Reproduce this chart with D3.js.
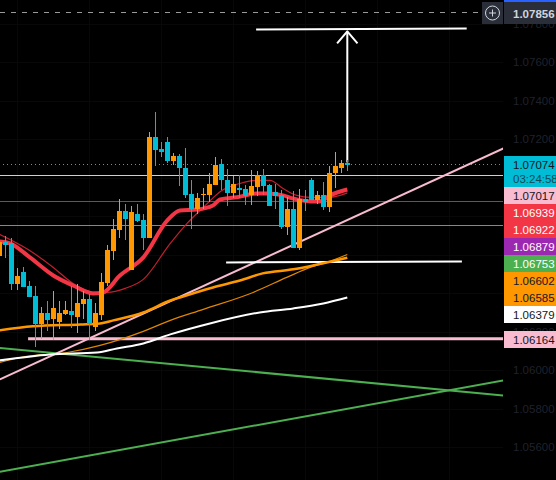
<!DOCTYPE html>
<html><head><meta charset="utf-8">
<script src="https://cdn.jsdelivr.net/npm/d3@7"></script>
<style>html,body{margin:0;background:#000;overflow:hidden}svg{display:block}</style>
</head><body><svg id="c" width="556" height="480"></svg>
<script>
// Candles, bar numbers -1..57
const open=[1.06592,1.06665,1.06660,1.06447,1.06509,1.06436,1.06384,1.06239,1.06296,1.06265,1.06254,1.06291,1.06306,1.06275,1.06343,1.06369,1.06223,1.06286,1.06452,1.06618,1.06727,1.06826,1.06519,1.06815,1.06779,1.06686,1.07210,1.07148,1.07184,1.07086,1.07112,1.07054,1.06914,1.06841,1.06909,1.06909,1.06961,1.07070,1.06987,1.06919,1.06945,1.06940,1.06909,1.06951,1.07013,1.06961,1.06925,1.06909,1.06743,1.06836,1.06634,1.06888,1.06987,1.06883,1.06909,1.06847,1.07023,1.07054,1.07080];
const high=[1.06686,1.06696,1.06690,1.06530,1.06535,1.06467,1.06441,1.06327,1.06363,1.06410,1.06363,1.06358,1.06441,1.06447,1.06415,1.06395,1.06348,1.06504,1.06654,1.06789,1.06888,1.06862,1.06852,1.06862,1.06815,1.07241,1.07340,1.07189,1.07210,1.07127,1.07122,1.07153,1.06987,1.06919,1.06945,1.07023,1.07106,1.07096,1.07044,1.07008,1.07013,1.06961,1.07039,1.07034,1.07044,1.06966,1.06966,1.06935,1.06899,1.06930,1.06940,1.06935,1.06997,1.06930,1.06977,1.07060,1.07132,1.07091,1.07091];
const low=[1.06582,1.06582,1.06420,1.06420,1.06431,1.06379,1.06119,1.06161,1.06203,1.06156,1.06213,1.06286,1.06218,1.06192,1.06265,1.06156,1.06203,1.06260,1.06441,1.06576,1.06686,1.06680,1.06519,1.06769,1.06623,1.06686,1.07060,1.07106,1.07080,1.07065,1.06956,1.06893,1.06737,1.06815,1.06836,1.06873,1.06961,1.06935,1.06852,1.06893,1.06893,1.06857,1.06857,1.06904,1.06909,1.06852,1.06836,1.06732,1.06701,1.06634,1.06623,1.06826,1.06883,1.06862,1.06831,1.06821,1.06945,1.07023,1.07034];
const close=[1.06665,1.06649,1.06447,1.06488,1.06431,1.06379,1.06239,1.06296,1.06260,1.06322,1.06296,1.06312,1.06286,1.06348,1.06369,1.06239,1.06296,1.06457,1.06623,1.06732,1.06826,1.06789,1.06821,1.06774,1.06686,1.07210,1.07143,1.07132,1.07086,1.07112,1.07049,1.06909,1.06841,1.06893,1.06914,1.06966,1.07065,1.06987,1.06919,1.06966,1.06935,1.06904,1.06956,1.07013,1.06956,1.06852,1.06904,1.06743,1.06841,1.06634,1.06888,1.06873,1.06883,1.06909,1.06847,1.07028,1.07060,1.07080,1.07065];

// Moving averages: [bar, price]
const emaFast=[[-0.9,1.06670],[0.8,1.06660],[4.1,1.06587],[8,1.06493],[11.3,1.06441],[14.6,1.06400],[16.3,1.06405],[19.1,1.06493],[23,1.06587],[27,1.06779],[29.1,1.06831],[32,1.06836],[34.6,1.06857],[35.8,1.06888],[38.6,1.06899],[41.9,1.06919],[43.6,1.06919],[46.3,1.06909],[48,1.06893],[50.8,1.06878],[52.4,1.06878],[54.1,1.06909],[57,1.06940]];
const smaFast=[[-0.9,1.06706],[3.8,1.06628],[8,1.06535],[11.3,1.06452],[15.3,1.06405],[17,1.06405],[20,1.06426],[23,1.06473],[27.5,1.06660],[30.3,1.06764],[33,1.06847],[36.1,1.06935],[39.1,1.06971],[41.9,1.06987],[44.1,1.06987],[46.3,1.06945],[48.6,1.06909],[50.8,1.06899],[54.1,1.06899],[57,1.06922]];
const emaMid=[[-0.9,1.06208],[4.6,1.06229],[12.5,1.06239],[15.8,1.06244],[18,1.06260],[23,1.06301],[27.5,1.06363],[29.1,1.06379],[34.6,1.06431],[39.1,1.06467],[42.9,1.06504],[48,1.06525],[51.3,1.06545],[57,1.06585]];
const smaMid=[[-0.9,1.06041],[2.5,1.06067],[10.3,1.06093],[15.8,1.06130],[23,1.06203],[27.5,1.06260],[33,1.06317],[41.3,1.06405],[46.9,1.06483],[50.8,1.06535],[53.6,1.06561],[57,1.06602]];
const emaSlow=[[-0.9,1.06052],[7.4,1.06083],[15.3,1.06093],[18.6,1.06114],[23,1.06140],[27.5,1.06187],[34.1,1.06244],[42.4,1.06301],[48,1.06322],[53,1.06348],[57,1.06379]];

// Drawings: [bar, price]
const pinkTrend=[[-0.9,1.05953],[83,1.07153]];
const greenDown=[[-0.9,1.06117],[83,1.05870]];
const greenUp=[[-0.9,1.05473],[83,1.05948]];
const whiteLow=[[36.8,1.06561],[76.1,1.06566]];
const whiteTop=[[41.8,1.07771],[76.9,1.07776]];
const pinkLevel=[[3.8,1.06164],[83,1.06164]];
const arrowShaft=[[57,1.07080],[57,1.07761]];
const arrowHead=[[55.3,1.07699],[57,1.07761],[58.7,1.07699]];

const levelPink=1.07017, levelPurple=1.06879, levelGreen=1.06753;
const lastPrice=1.07074, alertPrice=1.07856;
const countdown="03:24:58";
const priceTicks=[1.078,1.076,1.074,1.072,1.07,1.068,1.066,1.064,1.062,1.06,1.058,1.056,1.054];
const gridBars=[2,14,26,38,50,62,74];

const labelValues=[1.07074,1.07017,1.06939,1.06922,1.06879,1.06753,1.06602,1.06585,1.06379,1.06164];
const labelFill=["#00bcd4","#f8bbd0","#f23645","#f23645","#9c27b0","#4caf50","#ff9800","#ff9800","#ffffff","#f8bbd0"];
const labelInk=["#131722","#131722","#ffffff","#ffffff","#ffffff","#ffffff","#131722","#131722","#131722","#131722"];

const plotW=503, W=556, H=480;
const x=d3.scaleLinear().domain([0,57]).range([5.3,347.3]);
const y=d3.scaleLinear().domain([1.076,1.056]).range([62.4,447.4]);
const font="'Liberation Sans',Arial,sans-serif";
const svg=d3.select("#c");
svg.append("rect").attr("width",W).attr("height",H).attr("fill","#000");
svg.append("defs").append("clipPath").attr("id","plot").append("rect").attr("width",plotW).attr("height",H);
const g=svg.append("g").attr("clip-path","url(#plot)");

// grid
const gGrid=g.append("g").attr("stroke","#080808").attr("stroke-width",1).attr("shape-rendering","crispEdges");
gGrid.selectAll(".v").data(gridBars).join("line").attr("x1",d=>Math.round(x(d))+.5).attr("x2",d=>Math.round(x(d))+.5).attr("y1",0).attr("y2",H);
gGrid.selectAll(".h").data(priceTicks).join("line").attr("y1",d=>Math.round(y(d))+.5).attr("y2",d=>Math.round(y(d))+.5).attr("x1",0).attr("x2",plotW);

// horizontal levels
const hline=(p,c,w,dash)=>g.append("line").attr("x1",dash?3:0).attr("x2",plotW).attr("y1",Math.round(y(p))+.5).attr("y2",Math.round(y(p))+.5).attr("stroke",c).attr("stroke-width",w).attr("stroke-dasharray",dash||null).attr("shape-rendering","crispEdges");
hline(levelPink,"#f8bbd0",1);
hline(levelPurple,"#9c27b0",1);
hline(levelGreen,"#4caf50",1);
hline(lastPrice,"#00bcd4",1,"1 3");
g.append("line").attr("x1",0).attr("x2",482).attr("y1",y(alertPrice)-1).attr("y2",y(alertPrice)-1).attr("stroke","#9a9a9a").attr("stroke-dasharray","5 6").attr("shape-rendering","crispEdges");

const straight=d3.line().x(d=>x(d[0])).y(d=>y(d[1]));
const smooth=d3.line().x(d=>x(d[0])).y(d=>y(d[1])).curve(d3.curveMonotoneX);
const path=(gen,data,c,w)=>g.append("path").attr("d",gen(data)).attr("fill","none").attr("stroke",c).attr("stroke-width",w).attr("stroke-linejoin","round");

path(straight,greenDown,"#4caf50",2);
path(straight,greenUp,"#4caf50",2);
path(straight,pinkTrend,"#f8bbd0",2);
path(straight,pinkLevel,"#f8bbd0",3);
path(straight,whiteLow,"#ffffff",2);
path(straight,whiteTop,"#ffffff",2);
path(smooth,smaFast,"#c2202f",1.2);
path(smooth,smaMid,"#e08600",1.2);
path(smooth,emaSlow,"#ffffff",2);
path(smooth,emaMid,"#ff9800",2.5);
path(smooth,emaFast,"#f23645",4);
path(straight,arrowShaft,"#ffffff",2);
path(straight,arrowHead,"#ffffff",2);

// candles
const bars=d3.range(open.length).map(i=>({bar:i-1,o:open[i],h:high[i],l:low[i],c:close[i]}));
const col=d=>d.c>=d.o?"#ff9800":"#00bcd4";
const cg=g.append("g").attr("shape-rendering","crispEdges");
cg.selectAll(".w").data(bars).join("line").attr("x1",d=>Math.round(x(d.bar))+.5).attr("x2",d=>Math.round(x(d.bar))+.5)
 .attr("y1",d=>y(d.h)).attr("y2",d=>y(d.l)).attr("stroke",col).attr("stroke-width",1);
cg.selectAll(".b").data(bars).join("rect").attr("x",d=>Math.round(x(d.bar))-2).attr("width",5)
 .attr("y",d=>y(Math.max(d.o,d.c))).attr("height",d=>Math.max(1,Math.abs(y(d.o)-y(d.c)))).attr("fill",col);

// price axis
const axis=d3.axisRight(y).tickValues(priceTicks).tickFormat(d3.format(".5f")).tickSize(0).tickPadding(10);
const ag=svg.append("g").attr("transform",`translate(${plotW},-0.5)`).call(axis);
ag.select(".domain").remove();
ag.selectAll("text").attr("fill","#1f222b").attr("font-family",font).attr("font-size",11.5);

// stacked price labels
const lg=svg.append("g").attr("font-family",font).attr("font-size",11.5);
let bottom=0;
labelValues.forEach((v,i)=>{
  const h=i===0?31:17;
  const top=Math.max(bottom,Math.round(y(v))-8);
  bottom=top+h;
  lg.append("rect").attr("x",plotW+1).attr("y",top).attr("width",W-plotW-1).attr("height",h).attr("fill",labelFill[i]);
  lg.append("text").attr("x",513).attr("y",top+13).attr("fill",labelInk[i]).text(d3.format(".5f")(v));
  if(i===0) lg.append("text").attr("x",513).attr("y",top+27).attr("fill","#0f4a55").text(countdown);
});

// alert label + plus button
svg.append("rect").attr("x",504).attr("y",2).attr("width",52).attr("height",22).attr("fill","#2a2e39");
svg.append("rect").attr("x",504).attr("y",0).attr("width",52).attr("height",2).attr("fill","#2962ff");
svg.append("text").attr("x",513).attr("y",18).attr("fill","#d1d4dc").attr("font-family",font).attr("font-size",11.5).attr("font-weight",700).text(d3.format(".5f")(alertPrice));
svg.append("rect").attr("x",482).attr("y",2).attr("width",21).attr("height",22).attr("fill","#2a2e39");
svg.append("circle").attr("cx",492.5).attr("cy",13).attr("r",7).attr("fill","none").attr("stroke","#d1d4dc").attr("stroke-width",1);
svg.append("path").attr("d","M489 13H496M492.5 9.500V16.500").attr("stroke","#d1d4dc").attr("stroke-width",1);
</script></body></html>
